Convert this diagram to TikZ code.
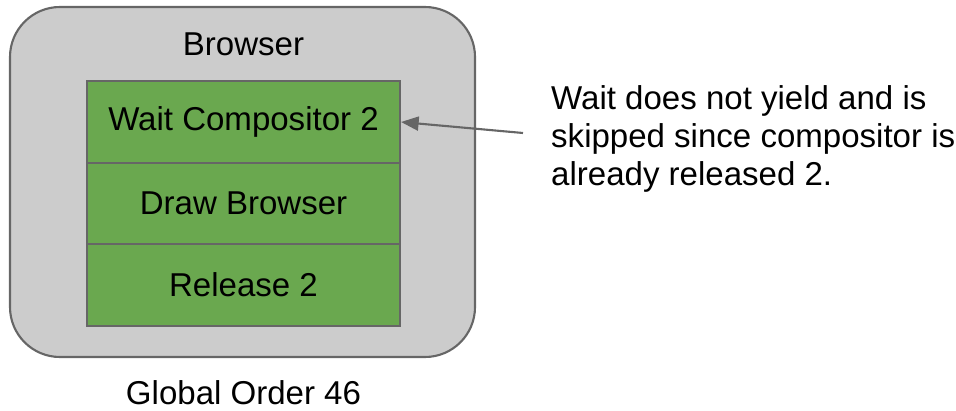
\documentclass[tikz,border=0pt]{standalone}
\usepackage{fontspec}
\setmainfont{Liberation Sans}
\usepackage{tikz}
\usetikzlibrary{positioning,arrows.meta}
\definecolor{framegray}{HTML}{CCCCCC}
\definecolor{edgegray}{HTML}{666666}
\definecolor{stepgreen}{HTML}{6AA84F}
\tikzset{
  phasebox/.style={draw=edgegray, line width=1.2pt, fill=stepgreen, minimum width=6.26cm, minimum height=1.63cm, inner sep=0pt, font=\fontsize{18.8}{21.6}\selectfont},
  txt/.style={font=\fontsize{18.8}{21.8}\selectfont}
}
\begin{document}
\begin{tikzpicture}
  \useasboundingbox (0,0) rectangle (19.12,-8.2);
  \node[draw=edgegray, line width=1.2pt, fill=framegray, rounded corners=1cm, minimum width=9.3cm, minimum height=7cm] (frame) at (4.85,-3.64) {};
  \node[txt] (browser) at (4.87,-0.88) {Browser};
  \node[phasebox] (wait) at (4.87,-2.44) {Wait Compositor 2};
  \node[phasebox, below=-1.2pt of wait] (draw) {Draw Browser};
  \node[phasebox, below=-1.2pt of draw] (release) {Release 2};
  \node[txt] (order) at (4.87,-7.86) {Global Order 46};
  \node[txt, align=left, anchor=west] (note) at (10.9,-2.78) {Wait does not yield and is\\skipped since compositor is\\already released 2.};
  \coordinate (tail) at (10.46,-2.66);
  \draw[edgegray, line width=1.2pt, -{Triangle[length=10pt,width=8pt]}] (tail) -- (wait.east);
\end{tikzpicture}
\end{document}
